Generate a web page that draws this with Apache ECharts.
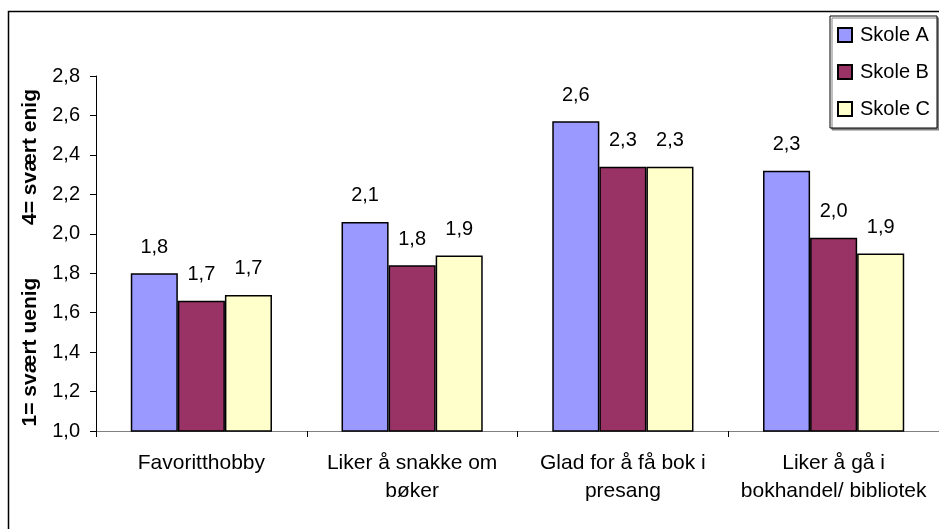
<!DOCTYPE html>
<html>
<head>
<meta charset="utf-8">
<script src="https://cdn.jsdelivr.net/npm/echarts@6/dist/echarts.min.js"></script>
<style>
  html, body { margin: 0; padding: 0; background: #fff; }
  #chart { width: 939px; height: 529px; }
</style>
</head>
<body>
<div id="chart"></div>
<script>
// Survey answers per school (mean score, 1 = svært uenig, 4 = svært enig)
const categories = [
  'Favoritthobby',
  'Liker å snakke om\nbøker',
  'Glad for å få bok i\npresang',
  'Liker å gå i\nbokhandel/ bibliotek'
];
const seriesNames = ['Skole A', 'Skole B', 'Skole C'];
const skoleA = [1.80, 2.06, 2.57, 2.32];
const skoleB = [1.66, 1.84, 2.34, 1.98];
const skoleC = [1.69, 1.89, 2.34, 1.90];
const yTitleLow = '1= svært uenig';
const yTitleHigh = '4= svært enig';

const FONT = "'Liberation Sans', Arial, sans-serif";
const colors = ['#9999FF', '#993366', '#FFFFCC'];
const fmt = v => Number(v).toFixed(1).replace('.', ',');

const chart = echarts.init(document.getElementById('chart'), null, { renderer: 'canvas' });

const makeSeries = (name, data, color) => ({
  name: name,
  type: 'bar',
  data: data,
  barGap: '0%',
  barCategoryGap: '33%',
  itemStyle: { color: color, borderColor: '#000', borderWidth: 1.5 },
  label: {
    show: true,
    position: 'top',
    distance: 16,
    color: '#000',
    fontFamily: FONT,
    fontSize: 20,
    formatter: p => fmt(p.value)
  },
  emphasis: { disabled: true }
});

chart.setOption({
  animation: false,
  backgroundColor: '#fff',
  textStyle: { fontFamily: FONT },
  grid: { left: 96, top: 76, width: 851, height: 355, containLabel: false },
  legend: {
    orient: 'vertical',
    left: 830,
    top: 16,
    padding: [9, 7, 9, 7],
    itemGap: 17,
    itemWidth: 14,
    itemHeight: 14,
    icon: 'rect',
    borderColor: '#000',
    borderWidth: 1,
    backgroundColor: '#fff',
    shadowColor: '#808080',
    shadowOffsetX: 2,
    shadowOffsetY: 2,
    shadowBlur: 0,
    textStyle: { fontFamily: FONT, fontSize: 20, color: '#000', padding: [0, 0, 0, 3] },
    data: seriesNames
  },
  xAxis: {
    type: 'category',
    data: categories,
    axisLine: { lineStyle: { color: '#808080', width: 1 } },
    axisTick: { show: true, length: 6, lineStyle: { color: '#000' } },
    axisLabel: {
      color: '#000',
      fontFamily: FONT,
      fontSize: 21,
      lineHeight: 28,
      margin: 18,
      interval: 0
    }
  },
  yAxis: {
    type: 'value',
    min: 1.0,
    max: 2.8,
    interval: 0.2,
    splitLine: { show: false },
    axisLine: { show: true, lineStyle: { color: '#000', width: 1 } },
    axisTick: { show: true, length: 6, lineStyle: { color: '#000' } },
    axisLabel: {
      color: '#000',
      fontFamily: FONT,
      fontSize: 20,
      margin: 16,
      formatter: v => fmt(v)
    }
  },
  graphic: [
    {
      // chart frame
      type: 'rect',
      shape: { x: 8.5, y: 11.5, width: 1000, height: 600 },
      style: { fill: 'none', stroke: '#000', lineWidth: 1.5 },
      silent: true,
      z: -1
    },
    {
      type: 'text',
      x: 30,
      y: 352,
      rotation: Math.PI / 2,
      style: {
        text: yTitleLow,
        fontFamily: FONT,
        fontSize: 21,
        fontWeight: 'bold',
        fill: '#000',
        align: 'center',
        verticalAlign: 'middle'
      },
      silent: true
    },
    {
      type: 'text',
      x: 30,
      y: 157,
      rotation: Math.PI / 2,
      style: {
        text: yTitleHigh,
        fontFamily: FONT,
        fontSize: 21,
        fontWeight: 'bold',
        fill: '#000',
        align: 'center',
        verticalAlign: 'middle'
      },
      silent: true
    }
  ],
  series: [
    makeSeries(seriesNames[0], skoleA, colors[0]),
    makeSeries(seriesNames[1], skoleB, colors[1]),
    makeSeries(seriesNames[2], skoleC, colors[2])
  ]
});
</script>
</body>
</html>
